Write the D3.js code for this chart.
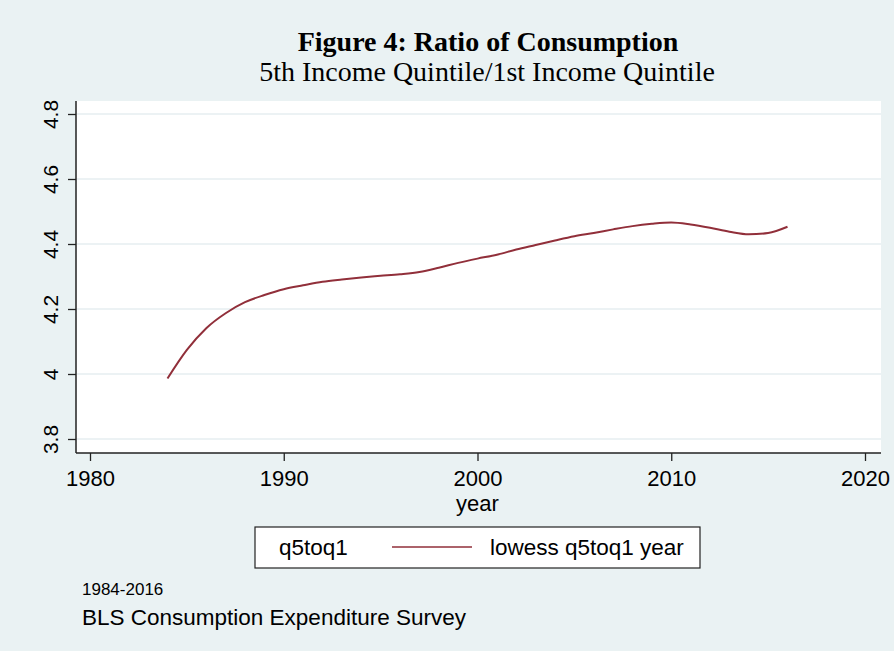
<!DOCTYPE html>
<html>
<head>
<meta charset="utf-8">
<script src="https://cdn.jsdelivr.net/npm/d3@7"></script>
<style>
  html, body { margin: 0; padding: 0; background: #eaf2f3; }
  svg { display: block; }
</style>
</head>
<body>
<svg id="chart" width="894" height="651"></svg>
<script>
// Lowess-smoothed ratio of 5th to 1st quintile consumption, by year
const years = [1984, 1985, 1986, 1987, 1988, 1989, 1990, 1991, 1992, 1993, 1994,
               1995, 1996, 1997, 1998, 1999, 2000, 2001, 2002, 2003, 2004, 2005,
               2006, 2007, 2008, 2009, 2010, 2011, 2012, 2013, 2014, 2015, 2016];
const lowessRatio = [3.986, 4.074, 4.141, 4.187, 4.221, 4.243, 4.261, 4.273, 4.284, 4.291, 4.297,
                     4.302, 4.307, 4.314, 4.327, 4.342, 4.355, 4.367, 4.383, 4.397, 4.411, 4.424,
                     4.434, 4.445, 4.455, 4.462, 4.466, 4.460, 4.450, 4.438, 4.430, 4.434, 4.453];
const xTicks = [1980, 1990, 2000, 2010, 2020];
const yTicks = [3.8, 4, 4.2, 4.4, 4.6, 4.8];
const legendLabels = ["q5toq1", "lowess q5toq1 year"];
const titleText = "Figure 4: Ratio of Consumption";
const subtitleText = "5th Income Quintile/1st Income Quintile";
const noteLines = ["1984-2016", "BLS Consumption Expenditure Survey"];

const svg = d3.select("#chart");
const sans = "Arial, 'Liberation Sans', sans-serif";
const serif = "'Times New Roman', 'Liberation Serif', serif";
const lineColor = "#912f3a";

// Plot region
const plot = { left: 76, right: 881, top: 101, bottom: 453 };

svg.append("rect").attr("width", 894).attr("height", 651).attr("fill", "#eaf2f3");
svg.append("rect")
  .attr("x", plot.left).attr("y", plot.top)
  .attr("width", plot.right - plot.left).attr("height", plot.bottom - plot.top)
  .attr("fill", "#ffffff");

const x = d3.scaleLinear().domain([1980, 2020]).range([90, 865]);
const y = d3.scaleLinear().domain([4, 4.8]).range([374, 114]);

// Horizontal grid lines
svg.append("g").selectAll("line").data(yTicks).join("line")
  .attr("x1", plot.left + 1).attr("x2", plot.right)
  .attr("y1", d => y(d)).attr("y2", d => y(d))
  .attr("stroke", "#e6eef1").attr("stroke-width", 1.5);

// Y axis
const yAxis = svg.append("g")
  .attr("transform", `translate(${plot.left},0)`)
  .call(d3.axisLeft(y).tickValues(yTicks).tickSize(8).tickPadding(6)
        .tickFormat(d => d3.format("")(+d.toFixed(1))));
yAxis.select(".domain").attr("d", `M0,${plot.top}V${plot.bottom}`);
yAxis.selectAll(".tick text")
  .attr("transform", "rotate(-90)")
  .attr("x", 0).attr("y", -18)
  .attr("text-anchor", "middle")
  .attr("dy", 0);

// X axis
const xAxis = svg.append("g")
  .attr("transform", `translate(0,${plot.bottom})`)
  .call(d3.axisBottom(x).tickValues(xTicks).tickSize(8).tickPadding(9)
        .tickFormat(d3.format("d")));
xAxis.select(".domain").attr("d", `M${plot.left},0H${plot.right}`);

[yAxis, xAxis].forEach(g => {
  g.select(".domain").attr("stroke", "#222").attr("stroke-width", 1.5);
  g.selectAll(".tick line").attr("stroke", "#222").attr("stroke-width", 1.3);
  g.selectAll(".tick text").attr("fill", "#000")
    .style("font-family", sans);
});
yAxis.selectAll(".tick text").style("font-size", "21px");
xAxis.selectAll(".tick text").style("font-size", "22px");

// X axis title
svg.append("text")
  .attr("x", x(2000)).attr("y", 511)
  .attr("text-anchor", "middle")
  .style("font-family", sans).style("font-size", "22px")
  .text("year");

// Smoothed series
const line = d3.line()
  .x((d, i) => x(years[i]))
  .y(d => y(d))
  .curve(d3.curveMonotoneX);
svg.append("path")
  .datum(lowessRatio)
  .attr("d", line)
  .attr("fill", "none")
  .attr("stroke", lineColor)
  .attr("stroke-width", 2);

// Titles
svg.append("text")
  .attr("x", 488).attr("y", 51)
  .attr("text-anchor", "middle")
  .style("font-family", serif).style("font-size", "28px").style("font-weight", "bold")
  .text(titleText);
svg.append("text")
  .attr("x", 487).attr("y", 81)
  .attr("text-anchor", "middle")
  .style("font-family", serif).style("font-size", "28px")
  .text(subtitleText);

// Legend
const legend = svg.append("g");
legend.append("rect")
  .attr("x", 255).attr("y", 527).attr("width", 445).attr("height", 41)
  .attr("fill", "#fff").attr("stroke", "#222").attr("stroke-width", 1.2);
legend.append("text")
  .attr("x", 279).attr("y", 555)
  .style("font-family", sans).style("font-size", "22.5px")
  .text(legendLabels[0]);
legend.append("line")
  .attr("x1", 392).attr("x2", 472).attr("y1", 547).attr("y2", 547)
  .attr("stroke", lineColor).attr("stroke-width", 1.5);
legend.append("text")
  .attr("x", 490).attr("y", 555)
  .style("font-family", sans).style("font-size", "22.5px")
  .text(legendLabels[1]);

// Notes
svg.append("text")
  .attr("x", 82).attr("y", 595)
  .style("font-family", sans).style("font-size", "17px")
  .text(noteLines[0]);
svg.append("text")
  .attr("x", 82).attr("y", 625)
  .style("font-family", sans).style("font-size", "22.5px")
  .text(noteLines[1]);
</script>
</body>
</html>
